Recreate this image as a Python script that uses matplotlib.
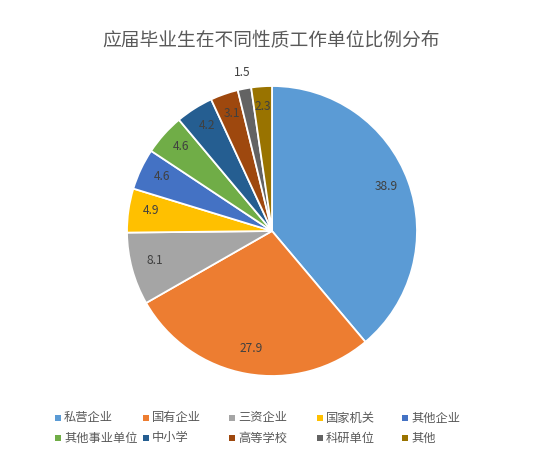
import matplotlib
matplotlib.use('Agg')
import matplotlib.pyplot as plt
import matplotlib.patches as mpatches
import numpy as np

plt.rcParams['font.family'] = ['Noto Sans CJK SC', 'DejaVu Sans']

# data
categories = ['私营企业', '国有企业', '三资企业', '国家机关', '其他企业',
              '其他事业单位', '中小学', '高等学校', '科研单位', '其他']
values = [38.9, 27.9, 8.1, 4.9, 4.6, 4.6, 4.2, 3.1, 1.5, 2.3]
colors = ['#5B9BD5', '#ED7D31', '#A5A5A5', '#FFC000', '#4472C4',
          '#70AD47', '#255E91', '#9E480E', '#636363', '#997300']

W, H = 550, 475
fig = plt.figure(figsize=(W / 100, H / 100), dpi=100)

# pie centre at (272, 231) px, radius 145 px
cx, cy, r = 272, 231, 145
ax = fig.add_axes([(cx - r) / W, (H - cy - r) / H, 2 * r / W, 2 * r / H])
wedges, _ = ax.pie(values, colors=colors, startangle=90, counterclock=False,
                   radius=1, wedgeprops=dict(edgecolor='white', linewidth=1.3))
ax.set_xlim(-1, 1)
ax.set_ylim(-1, 1)
ax.set_aspect('equal')
ax.axis('off')

# data labels, the small slice gets its label outside
for w, v in zip(wedges, values):
    ang = np.deg2rad((w.theta1 + w.theta2) / 2)
    dist = 0.84 if v >= 2 else 1.09
    ax.text(dist * np.cos(ang), dist * np.sin(ang) + 0.02, f'{v}', ha='center', va='center',
            fontsize=8.6, color='#404040', clip_on=False)

fig.text(271 / W, 1 - 41 / H, '应届毕业生在不同性质工作单位比例分布',
         ha='center', va='center', fontsize=13.5, color='#595959')

# legend, laid out like Excel's grid
col_x = [58, 146, 232, 320, 405]
row_y = [418, 438]
for i, (name, col) in enumerate(zip(categories, colors)):
    x = col_x[i % 5]
    y = row_y[i // 5]
    fig.patches.append(mpatches.Rectangle(((x - 3) / W, 1 - (y + 3) / H), 6 / W, 6 / H,
                                          facecolor=col, edgecolor='none',
                                          transform=fig.transFigure))
    fig.text((x + 6) / W, 1 - y / H, name, ha='left', va='center',
             fontsize=8.8, color='#595959')

fig.savefig('out.png', dpi=100)
